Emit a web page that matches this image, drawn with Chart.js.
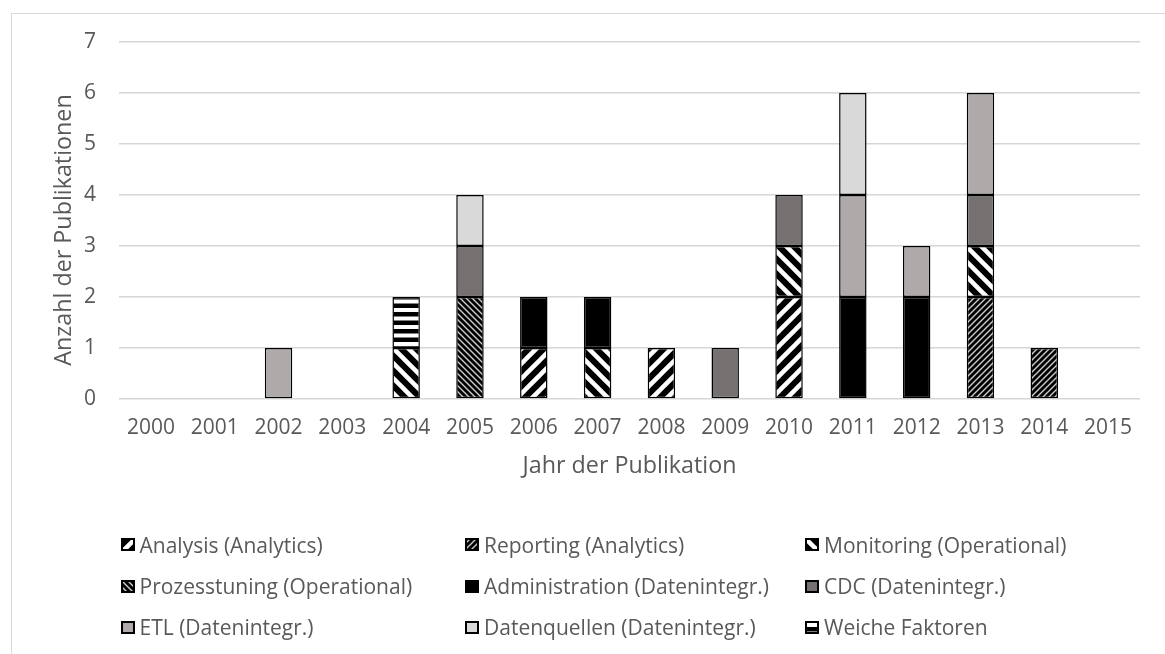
<!DOCTYPE html>
<html lang="de">
<head>
<meta charset="utf-8">
<title>Publikationen nach Jahr</title>
<script src="https://cdn.jsdelivr.net/npm/chart.js@4.4.1/dist/chart.umd.min.js"></script>
<style>
  html, body { margin: 0; padding: 0; background: #fff; overflow: hidden; }
  #wrap { position: relative; width: 1165px; height: 654px; }
  #frame { position: absolute; left: 11px; top: 13px; width: 1170px; height: 660px;
           border: 1.5px solid #D9D9D9; box-sizing: border-box; pointer-events: none; }
  #chart { position: absolute; left: 0; top: 0; }
  #legend { position: absolute; left: 0; top: 0; width: 1165px; height: 654px; pointer-events: none;
            font-family: "Open Sans", sans-serif; font-size: 21px; color: #595959; }
  .item { position: absolute; height: 28px; line-height: 28px; white-space: nowrap; }
  .item canvas { position: absolute; left: 0; top: 7.5px; }
  .item span { position: absolute; left: 19px; top: 0; }
</style>
</head>
<body>
<div id="wrap">
  <div id="frame"></div>
  <canvas id="chart" width="1165" height="654"></canvas>
  <div id="legend"></div>
</div>
<script>
// Publikationsjahre
const years = ['2000','2001','2002','2003','2004','2005','2006','2007',
               '2008','2009','2010','2011','2012','2013','2014','2015'];

// Anzahl der Publikationen je Kategorie und Jahr
const analysis       = [0,0,0,0,0,0,1,0,1,0,2,0,0,0,0,0];
const reporting      = [0,0,0,0,0,0,0,0,0,0,0,0,0,2,1,0];
const monitoring     = [0,0,0,0,1,0,0,1,0,0,1,0,0,1,0,0];
const prozesstuning  = [0,0,0,0,0,2,0,0,0,0,0,0,0,0,0,0];
const administration = [0,0,0,0,0,0,1,1,0,0,0,2,2,0,0,0];
const cdc            = [0,0,0,0,0,1,0,0,0,1,1,0,0,1,0,0];
const etl            = [0,0,1,0,0,0,0,0,0,0,0,2,1,2,0,0];
const datenquellen   = [0,0,0,0,0,1,0,0,0,0,0,2,0,0,0,0];
const weicheFaktoren = [0,0,0,0,1,0,0,0,0,0,0,0,0,0,0,0];

const seriesLabels = [
  'Analysis (Analytics)', 'Reporting (Analytics)', 'Monitoring (Operational)',
  'Prozesstuning (Operational)', 'Administration (Datenintegr.)', 'CDC (Datenintegr.)',
  'ETL (Datenintegr.)', 'Datenquellen (Datenintegr.)', 'Weiche Faktoren'
];
const seriesValues = [analysis, reporting, monitoring, prozesstuning, administration,
                      cdc, etl, datenquellen, weicheFaktoren];

const yTicks = [0, 1, 2, 3, 4, 5, 6, 7];
const xTitle = 'Jahr der Publikation';
const yTitle = 'Anzahl der Publikationen';

// --- fill patterns -------------------------------------------------------
function diagonalTile(size, width, dir, stroke) {
  const c = document.createElement('canvas');
  c.width = size; c.height = size;
  const g = c.getContext('2d');
  g.fillStyle = '#000';
  g.fillRect(0, 0, size, size);
  g.strokeStyle = stroke;
  g.lineWidth = width;
  g.lineCap = 'square';
  for (let k = -1; k <= 1; k++) {
    g.beginPath();
    if (dir === 'up') { g.moveTo(k * size, size); g.lineTo(k * size + size, 0); }
    else { g.moveTo(k * size, 0); g.lineTo(k * size + size, size); }
    g.stroke();
  }
  return c;
}
function horizontalTile() {
  const c = document.createElement('canvas');
  c.width = 8; c.height = 17;
  const g = c.getContext('2d');
  g.fillStyle = '#000';
  g.fillRect(0, 0, 8, 17);
  g.fillStyle = '#fff';
  g.fillRect(0, 2, 8, 4);
  g.fillRect(0, 10.5, 8, 4);
  return c;
}
const ctx0 = document.createElement('canvas').getContext('2d');
const tiles = [
  diagonalTile(15, 4.5, 'up', '#fff'),
  diagonalTile(6, 1.4, 'up', 'rgba(255,255,255,0.8)'),
  diagonalTile(15, 4.5, 'down', '#fff'),
  diagonalTile(6, 1.4, 'down', 'rgba(255,255,255,0.8)'),
  null, null, null, null,
  horizontalTile()
];
const solid = [null, null, null, null, '#000000', '#767171', '#AEAAAA', '#D9D9D9', null];
const fills = tiles.map((t, i) => t ? ctx0.createPattern(t, 'repeat') : solid[i]);

const datasets = seriesLabels.map((label, i) => ({
  label,
  data: seriesValues[i].map(v => v === 0 ? null : v),
  backgroundColor: fills[i],
  borderColor: '#000',
  borderWidth: 1.5,
  borderSkipped: false,
  categoryPercentage: 1,
  barPercentage: 0.43
}));

const textColor = '#595959';
const font = { family: '"Open Sans", sans-serif', size: 21 };
const titleFont = { family: '"Open Sans", sans-serif', size: 23.3 };

// vertical axis title, centred on the axis including the label band
const yTitlePlugin = {
  id: 'yTitle',
  afterDraw(chart) {
    const { ctx, chartArea } = chart;
    ctx.save();
    ctx.translate(64, (chartArea.top + chartArea.bottom) / 2 + 9.5);
    ctx.rotate(-Math.PI / 2);
    ctx.font = `${titleFont.size}px ${titleFont.family}`;
    ctx.fillStyle = textColor;
    ctx.textAlign = 'center';
    ctx.textBaseline = 'middle';
    ctx.fillText(yTitle, 0, 0);
    ctx.restore();
  }
};

new Chart(document.getElementById('chart'), {
  type: 'bar',
  data: { labels: years, datasets },
  plugins: [yTitlePlugin],
  options: {
    responsive: false,
    animation: false,
    layout: { padding: { left: 0, top: 42, right: 25, bottom: 155 } },
    plugins: { legend: { display: false }, tooltip: { enabled: false } },
    scales: {
      x: {
        stacked: true,
        grid: { display: false, drawTicks: false },
        border: { display: false },
        ticks: { color: textColor, font, padding: 16, maxRotation: 0, autoSkip: false },
        title: { display: true, text: xTitle, color: textColor, font: titleFont,
                 padding: { top: 0, bottom: 19 } },
        afterFit: s => { s.height = 100; }
      },
      y: {
        stacked: true,
        min: 0, max: 7,
        afterBuildTicks: s => { s.ticks = yTicks.map(v => ({ value: v })); },
        grid: { color: '#D6D6D6', lineWidth: 1.5, drawTicks: false },
        border: { display: false },
        ticks: { color: textColor, font, padding: 23 },
        afterFit: s => { s.width = 119; }
      }
    }
  }
});

// --- legend in three columns --------------------------------------------
const legendCols = [120.5, 465, 805];
const legendRows = [544.5, 586, 627];
const legend = document.getElementById('legend');
seriesLabels.forEach((label, i) => {
  const item = document.createElement('div');
  item.className = 'item';
  item.style.left = legendCols[i % 3] + 'px';
  item.style.top = (legendRows[Math.floor(i / 3)] - 14) + 'px';
  const sw = document.createElement('canvas');
  sw.width = 14; sw.height = 13;
  const g = sw.getContext('2d');
  g.fillStyle = fills[i];
  g.fillRect(0, 0, 14, 13);
  g.strokeStyle = '#000';
  g.lineWidth = 2;
  g.strokeRect(1, 1, 12, 11);
  const sp = document.createElement('span');
  sp.textContent = label;
  item.appendChild(sw);
  item.appendChild(sp);
  legend.appendChild(item);
});
</script>
</body>
</html>
